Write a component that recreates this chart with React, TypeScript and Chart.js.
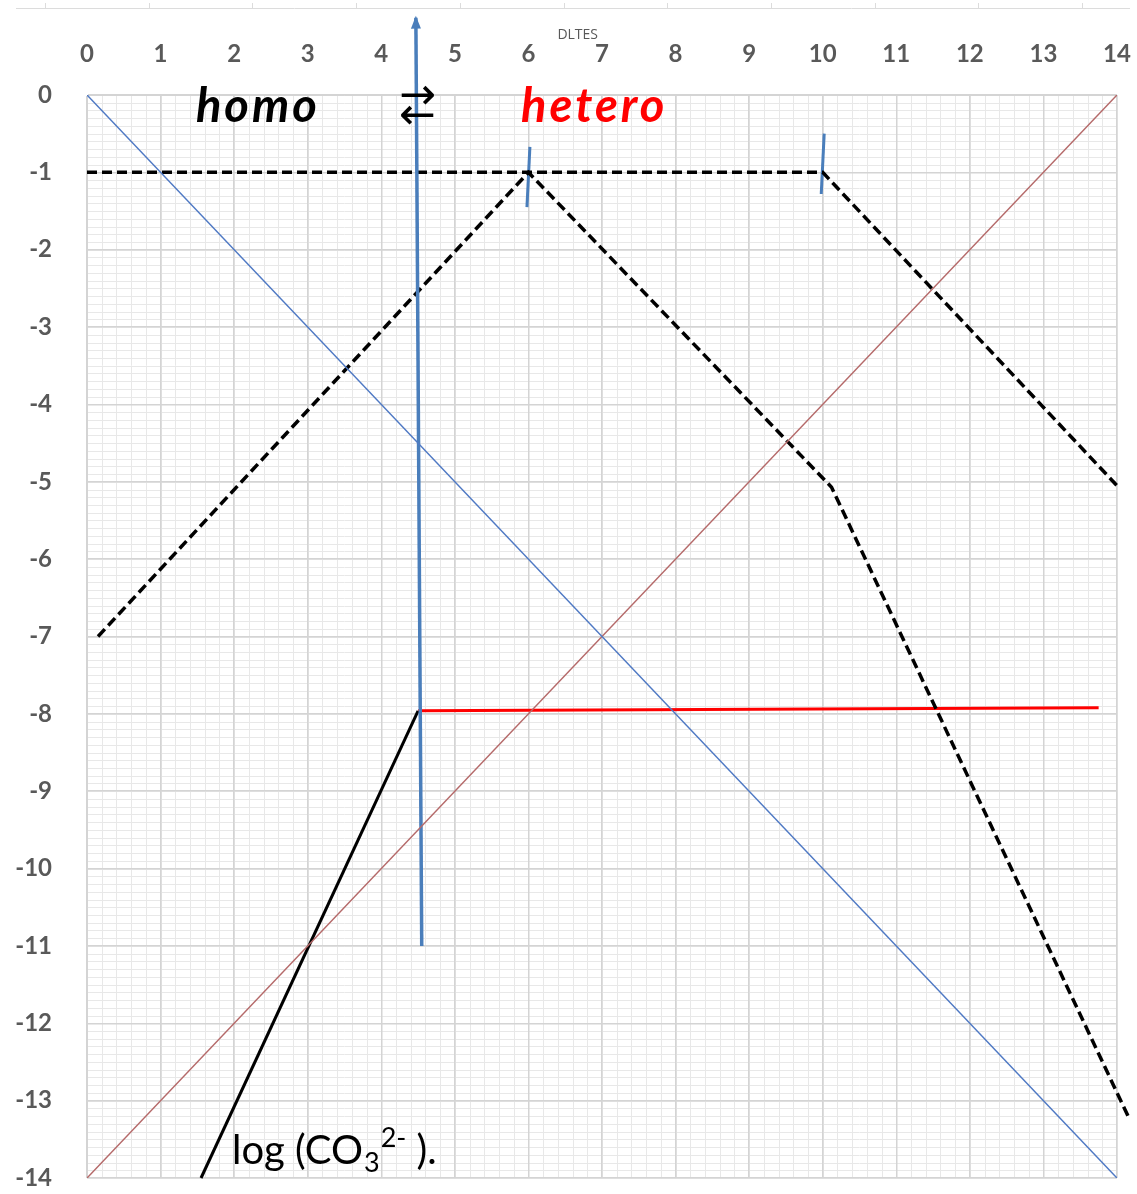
import React, { useEffect, useRef } from "react";
import { Chart, registerables } from "chart.js";

Chart.register(...registerables);

// ---- Data ----
const xTickValues = [0, 1, 2, 3, 4, 5, 6, 7, 8, 9, 10, 11, 12, 13, 14];
const yTickValues = [0, -1, -2, -3, -4, -5, -6, -7, -8, -9, -10, -11, -12, -13, -14];

const blueDiagX = [0, 14];
const blueDiagY = [0, -14];

const brownDiagX = [0, 14];
const brownDiagY = [-14, 0];

const dashTopX = [0, 10, 14.02];
const dashTopY = [-1, -1, -5.07];

const dashPeakX = [0.15, 6, 10.12, 14.15];
const dashPeakY = [-7.0, -1, -5.07, -13.2];

const blackSolidX = [1.55, 4.5];
const blackSolidY = [-14, -7.96];

const redSolidX = [4.5, 13.75];
const redSolidY = [-7.96, -7.92];

const arrowX = [4.55, 4.47];
const arrowY = [-11, 1.0];

const mark6X = [6.02, 5.98];
const mark6Y = [-0.67, -1.45];

const mark10X = [10.02, 9.98];
const mark10Y = [-0.5, -1.28];

const pts = (xs: number[], ys: number[]) => xs.map((x, i) => ({ x, y: ys[i] }));

const W = 1137;
const H = 1194;

const decorPlugin = {
  id: "decor",
  beforeDraw(chart: any) {
    const { ctx, chartArea, scales } = chart;
    const xs = scales.x;
    const ys = scales.y;
    ctx.save();
    ctx.strokeStyle = "#e8e8e8";
    ctx.lineWidth = 1;
    for (let i = 0; i <= 70; i++) {
      const v = i / 5;
      const px = Math.round(xs.getPixelForValue(v)) + 0.5;
      ctx.beginPath();
      ctx.moveTo(px, chartArea.top);
      ctx.lineTo(px, chartArea.bottom);
      ctx.stroke();
    }
    for (let i = 0; i <= 140; i++) {
      const v = -i / 10;
      const py = Math.round(ys.getPixelForValue(v)) + 0.5;
      ctx.beginPath();
      ctx.moveTo(chartArea.left, py);
      ctx.lineTo(chartArea.right, py);
      ctx.stroke();
    }
    // faint top frame line
    ctx.strokeStyle = "#dcdcdc";
    ctx.beginPath();
    ctx.moveTo(16, 8.5);
    ctx.lineTo(1130, 8.5);
    ctx.stroke();
    for (let k = 0; k <= 10; k++) {
      const px = Math.round(45 + k * 103.7) + 0.5;
      ctx.beginPath();
      ctx.moveTo(px, 3);
      ctx.lineTo(px, 8);
      ctx.stroke();
    }
    ctx.restore();
  },
  afterDatasetsDraw(chart: any) {
    const { ctx, scales } = chart;
    const xs = scales.x;
    const ys = scales.y;
    ctx.save();
    // arrow head
    const meta = chart.getDatasetMeta(2);
    const p1 = meta.data[meta.data.length - 1];
    const p0 = meta.data[0];
    const ang = Math.atan2(p1.y - p0.y, p1.x - p0.x);
    ctx.fillStyle = "#4a7ebb";
    ctx.translate(p1.x, p1.y);
    ctx.rotate(ang);
    ctx.beginPath();
    ctx.moveTo(2, 0);
    ctx.lineTo(-11, -5);
    ctx.lineTo(-11, 5);
    ctx.closePath();
    ctx.fill();
    ctx.setTransform(1, 0, 0, 1, 0, 0);

    // annotations
    ctx.textBaseline = "alphabetic";
    ctx.textAlign = "left";
    ctx.fillStyle = "#000";
    ctx.font = "italic bold 47px Lato";
    (ctx as any).letterSpacing = "3px";
    ctx.fillText("homo", xs.getPixelForValue(1.48), ys.getPixelForValue(-0.35));
    ctx.fillStyle = "#ff0000";
    ctx.fillText("hetero", xs.getPixelForValue(5.9), ys.getPixelForValue(-0.35));
    (ctx as any).letterSpacing = "0px";

    // exchange arrows (→ over ←)
    ctx.fillStyle = "#000";
    ctx.font = "44px 'DejaVu Sans'";
    ctx.textAlign = "center";
    ctx.textBaseline = "middle";
    const ax = xs.getPixelForValue(4.49);
    ctx.fillText("\u2192", ax, ys.getPixelForValue(-0.03));
    ctx.fillText("\u2190", ax, ys.getPixelForValue(-0.29));

    ctx.fillStyle = "#595959";
    ctx.font = "14px 'Open Sans'";
    ctx.fillText("DLTES", xs.getPixelForValue(6.67), ys.getPixelForValue(0.78));

    // log (CO3 2- ).
    ctx.fillStyle = "#000";
    ctx.textAlign = "left";
    ctx.textBaseline = "alphabetic";
    let x = xs.getPixelForValue(1.97);
    const base = ys.getPixelForValue(-13.82);
    ctx.font = "40px Lato";
    const s1 = "log (CO";
    ctx.fillText(s1, x, base);
    x += ctx.measureText(s1).width + 1;
    ctx.font = "27px Lato";
    ctx.fillText("3", x, base + 8);
    x += ctx.measureText("3").width + 1;
    ctx.fillText("2-", x, base - 17);
    x += ctx.measureText("2-").width;
    ctx.font = "40px Lato";
    ctx.fillText(" ).", x, base);
    ctx.restore();
  },
};

export default function App() {
  const ref = useRef<HTMLCanvasElement | null>(null);
  useEffect(() => {
    if (!ref.current) return;
    const dashed = {
      borderColor: "#000",
      borderWidth: 3.5,
      borderDash: [10, 5],
      pointRadius: 0,
      clip: false as any,
    };
    const tickFont = { family: "Lato", weight: "bold" as any, size: 24 };
    const chart = new Chart(ref.current, {
      type: "line",
      data: {
        datasets: [
          { data: pts(blueDiagX, blueDiagY), borderColor: "#4f79c4", borderWidth: 1.5, pointRadius: 0 },
          { data: pts(brownDiagX, brownDiagY), borderColor: "#b56a6a", borderWidth: 1.5, pointRadius: 0 },
          { data: pts(arrowX, arrowY), borderColor: "#4a7ebb", borderWidth: 3.5, pointRadius: 0, clip: false as any },
          { data: pts(dashTopX, dashTopY), ...dashed },
          { data: pts(dashPeakX, dashPeakY), ...dashed },
          { data: pts(blackSolidX, blackSolidY), borderColor: "#000", borderWidth: 3, pointRadius: 0, clip: false as any },
          { data: pts(redSolidX, redSolidY), borderColor: "#ff0000", borderWidth: 3, pointRadius: 0 },
          { data: pts(mark6X, mark6Y), borderColor: "#4a7ebb", borderWidth: 3, pointRadius: 0, clip: false as any },
          { data: pts(mark10X, mark10Y), borderColor: "#4a7ebb", borderWidth: 3, pointRadius: 0, clip: false as any },
        ],
      },
      options: {
        animation: false,
        responsive: false,
        maintainAspectRatio: false,
        layout: { padding: { top: 0, left: 0, right: 20, bottom: 16 } },
        plugins: { legend: { display: false }, tooltip: { enabled: false } },
        elements: { line: { tension: 0 } },
        scales: {
          x: {
            type: "linear",
            position: "top",
            min: 0,
            max: 14,
            afterBuildTicks: (s: any) => {
              s.ticks = xTickValues.map((v) => ({ value: v }));
            },
            afterFit: (s: any) => {
              s.height = 95;
              s.paddingLeft = 0;
              s.paddingRight = 0;
            },
            ticks: {
              autoSkip: false,
              maxRotation: 0,
              padding: 26,
              color: "#595959",
              font: tickFont,
            },
            grid: { color: "#d4d4d4", drawTicks: false, lineWidth: 1.5 },
            border: { color: "#d4d4d4" },
          },
          y: {
            type: "linear",
            min: -14,
            max: 0,
            afterBuildTicks: (s: any) => {
              s.ticks = yTickValues.map((v) => ({ value: v }));
            },
            afterFit: (s: any) => {
              s.width = 87;
              s.paddingTop = 0;
              s.paddingBottom = 0;
            },
            ticks: {
              autoSkip: false,
              padding: 35,
              color: "#595959",
              font: tickFont,
            },
            grid: { color: "#d4d4d4", drawTicks: false, lineWidth: 1.5 },
            border: { color: "#d4d4d4" },
          },
        },
      },
      plugins: [decorPlugin],
    });
    return () => chart.destroy();
  }, []);
  return (
    <div style={{ position: "absolute", left: 0, top: 0, width: W, height: H, background: "#fff" }}>
      <canvas ref={ref} width={W} height={H} style={{ width: W, height: H, display: "block" }} />
    </div>
  );
}
